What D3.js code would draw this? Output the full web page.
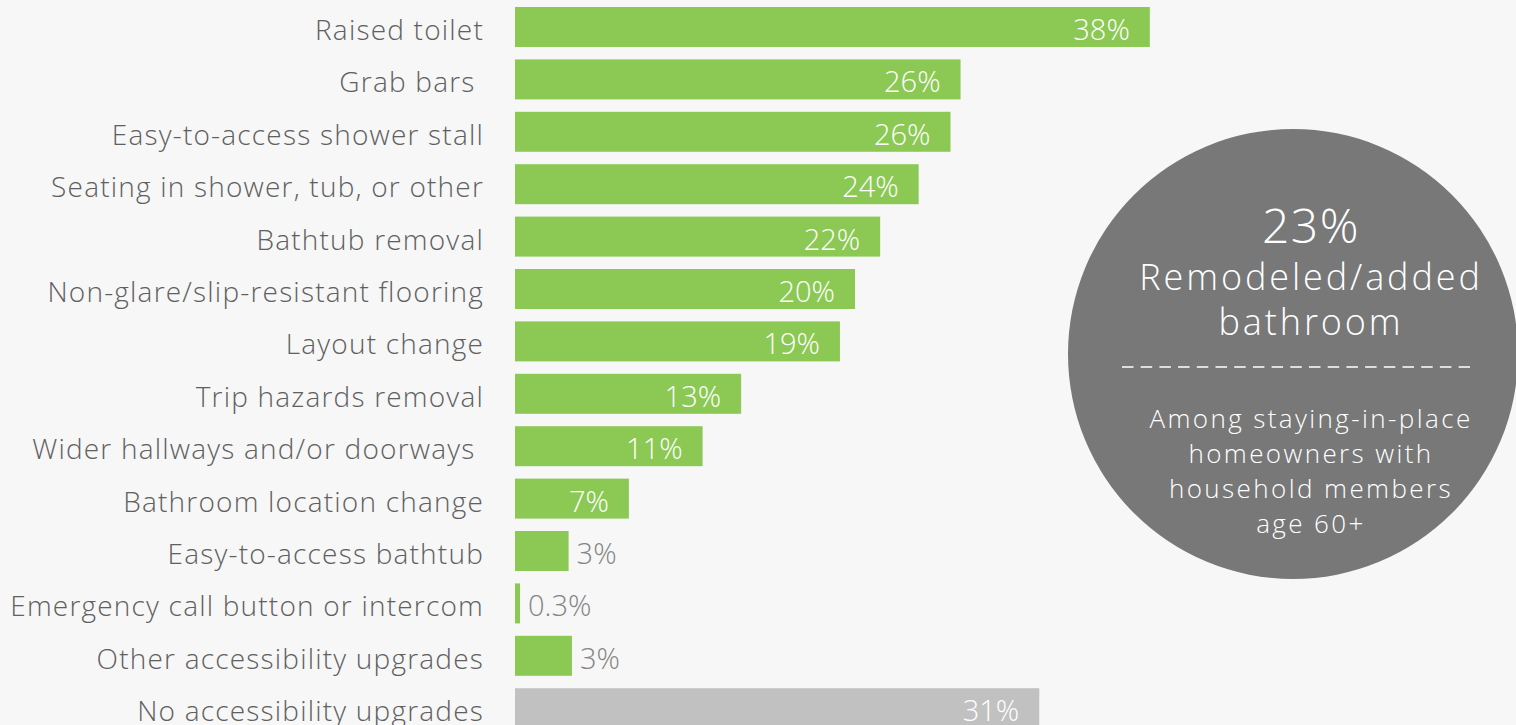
<!DOCTYPE html>
<html>
<head>
<meta charset="utf-8">
<script src="https://cdn.jsdelivr.net/npm/d3@7"></script>
<style>
  html, body { margin: 0; padding: 0; background: #f7f7f7; }
  svg text { white-space: pre; }
</style>
</head>
<body>
<div id="chart"></div>
<script>
// categories, top to bottom
const categories = [
    "Raised toilet", "Grab bars ", "Easy-to-access shower stall",
    "Seating in shower, tub, or other", "Bathtub removal",
    "Non-glare/slip-resistant flooring", "Layout change", "Trip hazards removal",
    "Wider hallways and/or doorways ", "Bathroom location change",
    "Easy-to-access bathtub", "Emergency call button or intercom",
    "Other accessibility upgrades", "No accessibility upgrades"
];
// share of homeowners (%)
const values = [37.9, 26.6, 26.0, 24.1, 21.8, 20.3, 19.4, 13.5, 11.2, 6.8, 3.2, 0.3, 3.4, 31.3];
// printed labels
const valueLabels = ["38%", "26%", "26%", "24%", "22%", "20%", "19%", "13%", "11%", "7%", "3%", "0.3%", "3%", "31%"];
// which bars are the "none" group
const groups = ["up", "up", "up", "up", "up", "up", "up", "up", "up", "up", "up", "up", "up", "none"];

// circle callout
const calloutBig = "23%";
const calloutTitle = ["Remodeled/added", "bathroom"];
const calloutNote = ["Among staying-in-place", "homeowners with", "household members", "age 60+"];

function createBarChart() {
    const W = 1516, H = 725;
    const font = "'Open Sans', Lato, sans-serif";

    const svg = d3.select("#chart")
        .append("svg")
        .attr("width", W)
        .attr("height", H)
        .style("display", "block");

    svg.append("rect").attr("width", W).attr("height", H).attr("fill", "#f7f7f7");

    const data = categories.map((c, i) => ({ cat: c, v: values[i], lab: valueLabels[i], g: groups[i] }));

    // scales
    const x = d3.scaleLinear().domain([0, 40]).range([515, 1185]);
    const y = d3.scaleBand()
        .domain(categories)
        .range([7, 728.2])
        .paddingInner(0.237)
        .paddingOuter(0);

    const colour = d3.scaleOrdinal().domain(["up", "none"]).range(["#8bc954", "#c1c1c1"]);

    // category labels
    svg.append("g")
        .selectAll("text")
        .data(data)
        .join("text")
        .attr("x", 484)
        .attr("y", d => y(d.cat) + y.bandwidth() / 2)
        .attr("dy", 13)
        .attr("text-anchor", "end")
        .attr("font-family", font)
        .attr("font-weight", 300)
        .attr("font-size", 28)
        .attr("letter-spacing", 1.2)
        .attr("fill", "#606060")
        .text(d => d.cat);

    // bars
    svg.append("g")
        .selectAll("rect")
        .data(data)
        .join("rect")
        .attr("x", x(0))
        .attr("y", d => y(d.cat))
        .attr("width", d => x(d.v) - x(0))
        .attr("height", y.bandwidth())
        .attr("fill", d => colour(d.g));

    // value labels: inside for long bars, outside for short ones
    svg.append("g")
        .selectAll("text")
        .data(data)
        .join("text")
        .attr("x", d => d.v > 5 ? x(d.v) - 20 : x(d.v) + 8)
        .attr("y", d => y(d.cat) + y.bandwidth() / 2)
        .attr("dy", 13)
        .attr("text-anchor", d => d.v > 5 ? "end" : "start")
        .attr("font-family", font)
        .attr("font-weight", 300)
        .attr("font-size", 29)
        .attr("fill", d => d.v > 5 ? "#ffffff" : "#858585")
        .text(d => d.lab);

    // callout circle
    const cx = 1293, cy = 354, r = 225;
    const tx = 1311;
    const callout = svg.append("g");
    callout.append("circle")
        .attr("cx", cx).attr("cy", cy).attr("r", r)
        .attr("fill", "#787878");

    callout.append("text")
        .attr("x", tx).attr("y", 243)
        .attr("text-anchor", "middle")
        .attr("font-family", font)
        .attr("font-weight", 300)
        .attr("font-size", 48)
        .attr("letter-spacing", 1.5)
        .attr("fill", "#ffffff")
        .text(calloutBig);

    callout.selectAll("text.title")
        .data(calloutTitle)
        .join("text")
        .attr("class", "title")
        .attr("x", tx)
        .attr("y", (d, i) => 290 + i * 45)
        .attr("text-anchor", "middle")
        .attr("font-family", font)
        .attr("font-weight", 300)
        .attr("font-size", 36)
        .attr("letter-spacing", 2.9)
        .attr("fill", "#ffffff")
        .text(d => d);

    callout.append("line")
        .attr("x1", 1122).attr("x2", 1470)
        .attr("y1", 367).attr("y2", 367)
        .attr("stroke", "#ffffff")
        .attr("stroke-width", 1.5)
        .attr("stroke-dasharray", "11.5,7.2");

    callout.selectAll("text.note")
        .data(calloutNote)
        .join("text")
        .attr("class", "note")
        .attr("x", tx)
        .attr("y", (d, i) => 428 + i * 35)
        .attr("text-anchor", "middle")
        .attr("font-family", font)
        .attr("font-weight", 300)
        .attr("font-size", 26)
        .attr("letter-spacing", 2.4)
        .attr("fill", "#ffffff")
        .text(d => d);
}

createBarChart();
</script>
</body>
</html>
